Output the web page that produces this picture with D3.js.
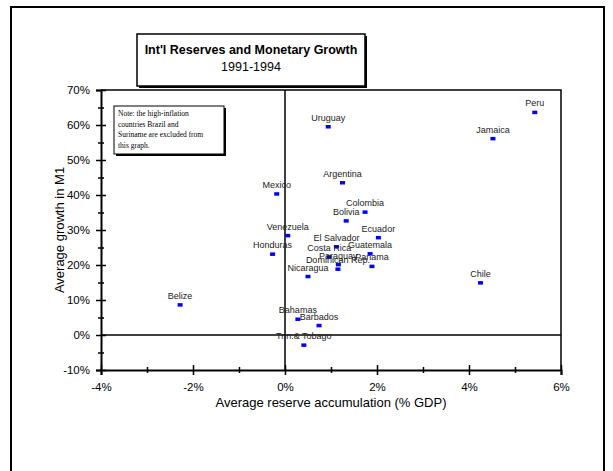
<!DOCTYPE html>
<html><head><meta charset="utf-8">
<script src="https://cdn.jsdelivr.net/npm/d3@7"></script>
<style>body{margin:0;background:#fff}svg{display:block}</style>
</head><body>
<script>
const countries = ["Peru","Jamaica","Uruguay","Argentina","Mexico","Colombia","Bolivia","Ecuador","Venezuela","El Salvador","Guatemala","Costa Rica","Honduras","Paraguay","Panama","Dominican Rep.","Nicaragua","Chile","Belize","Bahamas","Barbados","Trin.& Tobago"];
const reserveAccum = [5.43,4.52,0.94,1.25,-0.18,1.74,1.33,2.03,0.06,1.12,1.85,0.96,-0.27,1.16,1.89,1.15,0.50,4.25,-2.28,0.28,0.74,0.41];
const m1Growth = [63.6,56.1,59.5,43.5,40.3,35.1,32.6,27.8,28.4,25.2,23.2,22.3,23.1,20.1,19.6,18.8,16.7,14.9,8.6,4.5,2.7,-2.9];
const xTicks = [-4,-2,0,2,4,6];
const yTicks = [-10,0,10,20,30,40,50,60,70];
const titleText = "Int'l Reserves and Monetary Growth";
const subtitleText = "1991-1994";
const xTitle = "Average reserve accumulation (% GDP)";
const yTitle = "Average growth in M1";
const noteLines = ["Note: the high-inflation","countries Brazil and","Suriname are excluded from","this graph."];

const W=613,H=471;
const svg=d3.select("body").append("svg").attr("width",W).attr("height",H);
const font="'Liberation Sans', Arial, sans-serif";

// outer frame
svg.append("path").attr("d","M11,471 L11,7 L604,7 L604,471").attr("fill","none").attr("stroke","#000").attr("stroke-width",2);

const x=d3.scaleLinear().domain([-4,6]).range([101,561]);
const y=d3.scaleLinear().domain([-10,70]).range([370,90]);

// plot border (top/right)
svg.append("path").attr("d",`M${x(-4)},${y(70)} L${x(6)},${y(70)} L${x(6)},${y(-10)}`).attr("fill","none").attr("stroke","#000").attr("stroke-width",1.5);
// zero lines
svg.append("line").attr("x1",x(-4)).attr("x2",x(6)).attr("y1",y(0)).attr("y2",y(0)).attr("stroke","#000").attr("stroke-width",1.5);
svg.append("line").attr("x1",x(0)).attr("x2",x(0)).attr("y1",y(70)).attr("y2",y(-10)).attr("stroke","#000").attr("stroke-width",1.5);

// axes
const xAxis=d3.axisBottom(x).tickValues(xTicks).tickFormat(d=>d+"%").tickSize(5).tickPadding(8);
const gx=svg.append("g").attr("transform",`translate(0,${y(-10)})`).call(xAxis);
gx.select(".domain").attr("stroke-width",2);
gx.selectAll(".tick line").attr("y1",-5).attr("y2",5).attr("stroke-width",1.5);
gx.selectAll("text").attr("font-family",font).attr("font-size",11.5).attr("fill","#000");
const xMinor=d3.axisBottom(x).tickValues([-3,-1,1,3,5]).tickFormat("").tickSize(3);
const gxm=svg.append("g").attr("transform",`translate(0,${y(-10)})`).call(xMinor);
gxm.select(".domain").remove();
gxm.selectAll(".tick line").attr("y1",-3).attr("y2",3).attr("stroke-width",1.5);

const yAxis=d3.axisLeft(y).tickValues(yTicks).tickFormat(d=>d+"%").tickSize(5).tickPadding(6);
const gy=svg.append("g").attr("transform",`translate(${x(-4)},0)`).call(yAxis);
gy.select(".domain").attr("stroke-width",2);
gy.selectAll(".tick line").attr("x1",-5).attr("x2",5).attr("stroke-width",1.5);
gy.selectAll("text").attr("font-family",font).attr("font-size",11.5).attr("fill","#000");
const yMinor=d3.axisLeft(y).tickValues([-5,5,15,25,35,45,55,65]).tickFormat("").tickSize(3);
const gym=svg.append("g").attr("transform",`translate(${x(-4)},0)`).call(yMinor);
gym.select(".domain").remove();
gym.selectAll(".tick line").attr("x1",-3).attr("x2",3).attr("stroke-width",1.5);

// axis titles
svg.append("text").attr("x",331).attr("y",407).attr("text-anchor","middle").attr("font-family",font).attr("font-size",13).text(xTitle);
svg.append("text").attr("transform","translate(64,230) rotate(-90)").attr("text-anchor","middle").attr("font-family",font).attr("font-size",13).text(yTitle);

// points
const data=countries.map((c,i)=>({c,x:reserveAccum[i],y:m1Growth[i]}));
svg.append("g").selectAll("rect").data(data).join("rect")
  .attr("x",d=>x(d.x)-2.5).attr("y",d=>y(d.y)-1.75).attr("width",5).attr("height",3.5).attr("fill","#0000ff");
svg.append("g").selectAll("text").data(data).join("text")
  .attr("x",d=>x(d.x)).attr("y",d=>y(d.y)-6).attr("text-anchor","middle")
  .attr("font-family",font).attr("font-size",9).attr("fill","#222").text(d=>d.c);

// note box
const nb={x:114,y:106,w:110,h:48};
svg.append("rect").attr("x",nb.x+2).attr("y",nb.y+2).attr("width",nb.w).attr("height",nb.h).attr("fill","#000");
svg.append("rect").attr("x",nb.x).attr("y",nb.y).attr("width",nb.w).attr("height",nb.h).attr("fill","#fff").attr("stroke","#000").attr("stroke-width",1);
svg.append("g").selectAll("text").data(noteLines).join("text")
  .attr("x",nb.x+4).attr("y",(d,i)=>nb.y+10+i*10.5).attr("font-family","'Liberation Serif','Times New Roman',serif").attr("font-size",7.5).attr("fill","#000").text(d=>d);

// title box
const tb={x:137,y:34,w:228,h:52};
svg.append("rect").attr("x",tb.x+2).attr("y",tb.y+2).attr("width",tb.w).attr("height",tb.h).attr("fill","#000");
svg.append("rect").attr("x",tb.x).attr("y",tb.y).attr("width",tb.w).attr("height",tb.h).attr("fill","#fff").attr("stroke","#000").attr("stroke-width",1.5);
svg.append("text").attr("x",tb.x+tb.w/2).attr("y",tb.y+20).attr("text-anchor","middle").attr("font-family",font).attr("font-weight","bold").attr("font-size",12.5).text(titleText);
svg.append("text").attr("x",tb.x+tb.w/2).attr("y",tb.y+37).attr("text-anchor","middle").attr("font-family",font).attr("font-size",12.5).text(subtitleText);
</script>
</body></html>
